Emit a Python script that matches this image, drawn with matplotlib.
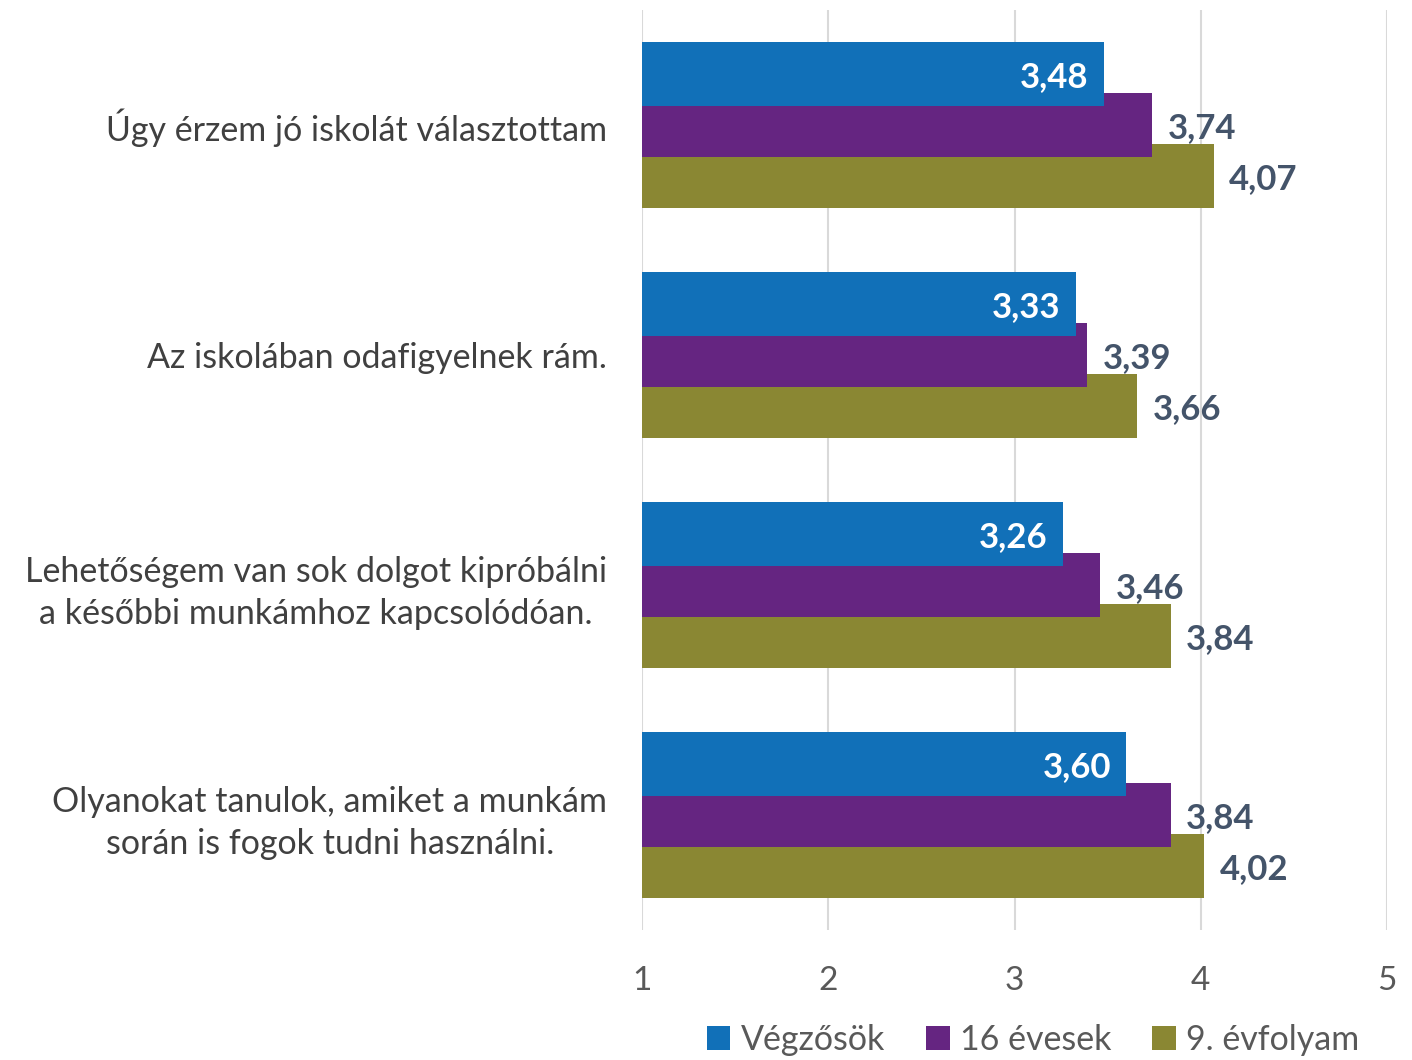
import numpy as np
import matplotlib.pyplot as plt

plt.rcParams['font.family'] = ['Lato', 'DejaVu Sans']

categories = ['Úgy érzem jó iskolát választottam',
              'Az iskolában odafigyelnek rám.',
              'Lehetőségem van sok dolgot kipróbálni\na későbbi munkámhoz kapcsolódóan.',
              'Olyanokat tanulok, amiket a munkám\nsorán is fogok tudni használni.']
vegzosok = [3.48, 3.33, 3.26, 3.60]
evesek16 = [3.74, 3.39, 3.46, 3.84]
evfolyam9 = [4.07, 3.66, 3.84, 4.02]
series_names = ['Végzősök', '16 évesek', '9. évfolyam']
colors = ['#1170B8', '#652581', '#8A8733']

fig = plt.figure(figsize=(14.12, 10.60), dpi=100)
ax = fig.add_axes([642/1412, 1 - 930/1060, (1387-642)/1412, 920/1060])

y = np.arange(len(categories))
h = 0.277
off = 0.221
base = 1

series = [vegzosok, evesek16, evfolyam9]
offsets = [-off, 0, off]
zorders = [5, 4, 3]
for vals, o, c, z, name in zip(series, offsets, colors, zorders, series_names):
    ax.barh(y + o, np.array(vals) - base, left=base, height=h, color=c,
            zorder=z, label=name)

# data labels
for i, v in enumerate(vegzosok):
    ax.annotate(f'{v:.2f}'.replace('.', ','), (v, y[i] - off), xytext=(-11, -2),
                textcoords='offset points', ha='right', va='center',
                color='white', fontsize=25, fontweight='bold', zorder=10)
for vals, o in [(evesek16, 0), (evfolyam9, off)]:
    for i, v in enumerate(vals):
        ax.annotate(f'{v:.2f}'.replace('.', ','), (v, y[i] + o), xytext=(11, -2),
                    textcoords='offset points', ha='left', va='center',
                    color='#44546A', fontsize=25, fontweight='bold', zorder=10)

ax.set_xlim(1, 5)
ax.set_ylim(3.5, -0.5)
ax.set_xticks([1, 2, 3, 4, 5])
ax.set_xticklabels(['1', '2', '3', '4', '5'])
ax.set_yticks(y)
ax.set_yticklabels(categories, multialignment='center', linespacing=1.4)
ax.tick_params(axis='x', length=0, pad=26, labelsize=24, labelcolor='#595959')
ax.tick_params(axis='y', length=0, pad=25, labelsize=24.5, labelcolor='#404040')
ax.grid(axis='x', color='#D9D9D9', linewidth=1.5, zorder=0)
ax.set_axisbelow(True)
for s in ax.spines.values():
    s.set_visible(False)

fig.legend(loc='center', bbox_to_anchor=(1033/1412, 1 - 1040/1060), ncol=3,
           frameon=False, fontsize=24.5, handlelength=0.7, handleheight=0.7,
           handletextpad=0.3, columnspacing=1.2, labelcolor='#595959')

fig.savefig('out.png', dpi=100)
